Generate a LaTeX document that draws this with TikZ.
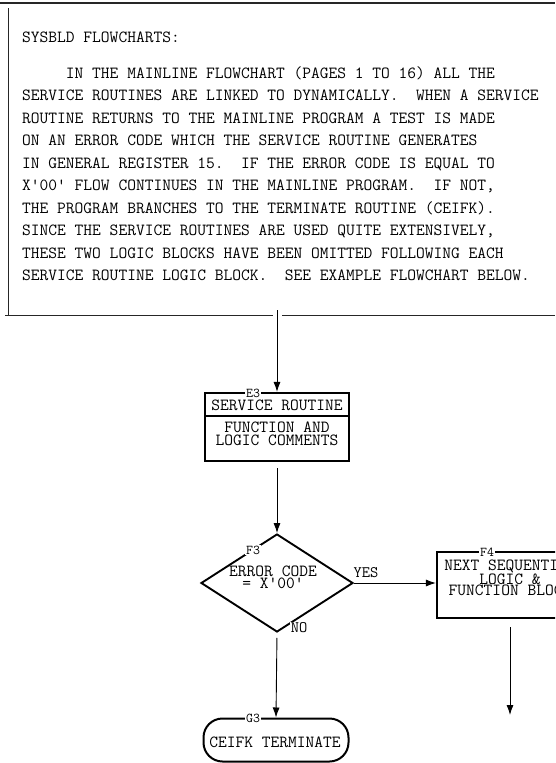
\documentclass[tikz,border=0pt]{standalone}
\usepackage{fontspec}
\usetikzlibrary{arrows.meta,shapes.geometric}
\tikzset{
  conn/.style={line width=0.9pt,-{Latex[length=10pt,width=7pt]}},
  boxshape/.style={draw,line width=2.2pt,inner sep=0pt},
  txt/.style={font=\ttfamily\fontsize{17}{13}\selectfont,inner sep=0pt,align=center},
  lab/.style={font=\ttfamily\fontsize{13.5}{12}\selectfont,fill=white,inner sep=1pt},
  pline/.style={font=\ttfamily\fontsize{17}{20}\selectfont,anchor=base west,inner sep=0pt},
  frameline/.style={line width=1pt,black!85}
}
\begin{document}
\begin{tikzpicture}[x=1pt,y=-1pt]
\clip (0,0) rectangle (555,763);
\useasboundingbox (0,0) rectangle (555,763);
\frenchspacing
% frame
\draw[frameline,line width=1.5pt] (0,3) -- (555,3);
\draw[frameline] (8,8) -- (8,315);
\draw[frameline] (5,315) -- (273,315);
\draw[frameline] (282,315) -- (555,315);
% text
\node[pline] (title) at (22,42) {SYSBLD FLOWCHARTS:};
\node[pline] (l1) at (22,78) {~~~~~IN THE MAINLINE FLOWCHART (PAGES 1 TO 16) ALL THE};
\node[pline] (l2) at (22,100.5) {SERVICE ROUTINES ARE LINKED TO DYNAMICALLY.~ WHEN A SERVICE};
\node[pline] (l3) at (22,123) {ROUTINE RETURNS TO THE MAINLINE PROGRAM A TEST IS MADE};
\node[pline] (l4) at (22,145.5) {ON AN ERROR CODE WHICH THE SERVICE ROUTINE GENERATES};
\node[pline] (l5) at (22,168) {IN GENERAL REGISTER 15.~ IF THE ERROR CODE IS EQUAL TO};
\node[pline] (l6) at (22,190.5) {X'00' FLOW CONTINUES IN THE MAINLINE PROGRAM.~ IF NOT,};
\node[pline] (l7) at (22,213) {THE PROGRAM BRANCHES TO THE TERMINATE ROUTINE (CEIFK).};
\node[pline] (l8) at (22,235.5) {SINCE THE SERVICE ROUTINES ARE USED QUITE EXTENSIVELY,};
\node[pline] (l9) at (22,258) {THESE TWO LOGIC BLOCKS HAVE BEEN OMITTED FOLLOWING EACH};
\node[pline] (l10) at (22,280.5) {SERVICE ROUTINE LOGIC BLOCK.~ SEE EXAMPLE FLOWCHART BELOW.};
% E3 box
\node[boxshape,minimum width=144pt,minimum height=68pt] (e3) at (277,427) {};
\draw[line width=2pt] (205,416) -- (349,416);
\node[txt] (e3t) at (277,405) {SERVICE ROUTINE};
\node[txt] (e3c) at (277,434) {FUNCTION AND\\LOGIC COMMENTS};
\node[lab] (e3l) at (253,393) {E3};
% F3 diamond
\node[diamond,draw,line width=1.9pt,inner sep=0pt,minimum width=152pt,minimum height=98pt] (f3) at (277,583) {};
\node[txt,font=\ttfamily\fontsize{17}{10.5}\selectfont] (f3t) at (273,577) {ERROR CODE\\= X'00'};
\node[lab] (f3l) at (253,550) {F3};
\node[txt,font=\ttfamily\fontsize{16}{12}\selectfont] (yes) at (366,573) {YES};
\node[lab,font=\ttfamily\fontsize{16}{12}\selectfont] (no) at (299,628) {NO};
% F4 box
\node[boxshape,minimum width=146pt,minimum height=66pt] (f4) at (510,585) {};
\node[txt,font=\ttfamily\fontsize{17}{11}\selectfont] (f4t) at (510,578) {NEXT SEQUENTIAL\\LOGIC \&\\FUNCTION BLOCK};
\node[lab] (f4l) at (487,552) {F4};
% G3 terminal
\node[draw,line width=2pt,rounded corners=19pt,minimum width=145pt,minimum height=43pt,inner sep=0pt] (g3) at (276,740) {};
\node[txt] (g3t) at (275,742) {CEIFK TERMINATE};
\node[lab] (g3l) at (253,718) {G3};
% connectors
\coordinate (start) at (277,310);
\coordinate (f4end) at (510,715);
\draw[conn] (start) -- (e3.north);
\draw[conn,shorten <=6pt] (e3.south) -- (f3.north);
\draw[conn] (f3.east) -- (f3.east -| f4.west);
\draw[conn,shorten <=5pt] (f3.south) -- (g3.north);
\draw[conn,shorten <=8pt] (f4.south) -- (f4end);
\end{tikzpicture}
\end{document}
